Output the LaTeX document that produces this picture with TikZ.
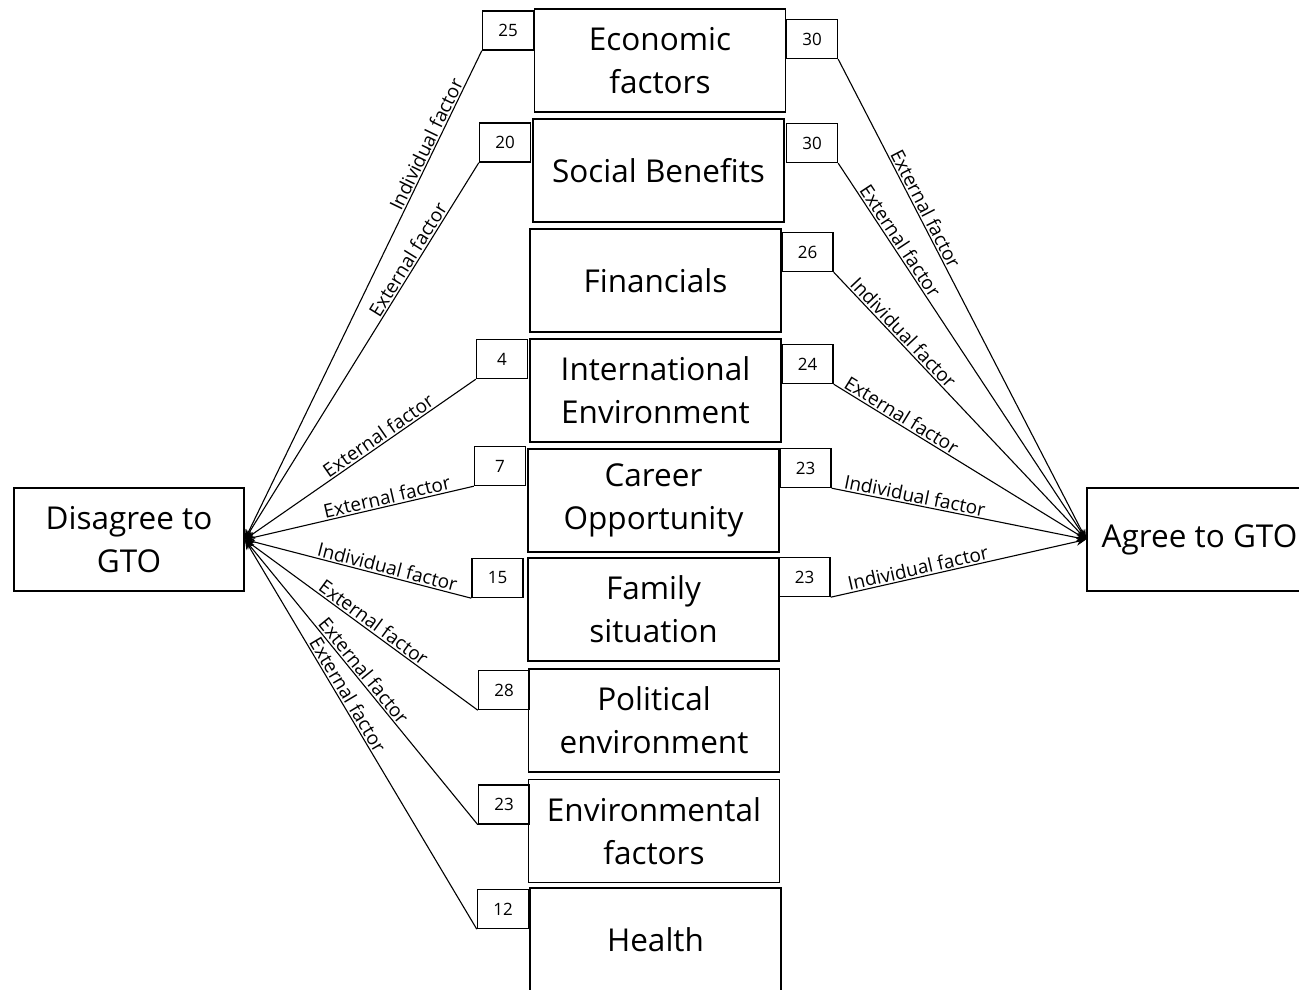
\documentclass[tikz,border=0pt]{standalone}
\usepackage{fontspec}
\setmainfont{Open Sans}
\usetikzlibrary{arrows.meta}
\begin{document}
\begin{tikzpicture}[x=1pt,y=-1pt,>={Stealth[length=10pt,width=8pt]},line width=1.1pt,
  catbox/.style={draw,line width=1.6pt,minimum width=251pt,minimum height=103pt,
    inner sep=0pt,align=center,font=\fontsize{31.5}{43}\selectfont},
  endbox/.style={draw,line width=1.6pt,minimum height=103pt,inner sep=0pt,
    align=center,font=\fontsize{31.5}{43}\selectfont},
  numbox/.style={draw,line width=1.4pt,minimum width=51pt,minimum height=39pt,
    inner sep=0pt,font=\fontsize{17}{19}\selectfont},
  fac/.style={sloped,above,inner sep=1.5pt,font=\fontsize{19}{21}\selectfont}]
  \useasboundingbox (0,0) rectangle (1299,989);

  % end nodes
  \node[endbox,minimum width=230pt] (dis) at (129,539.5) {Disagree to\\GTO};
  \node[endbox,minimum width=225pt] (agr) at (1199.5,539.5) {Agree to GTO};

  % factor boxes
  \node[catbox] (econ) at (660,60.5) {Economic\\factors};
  \node[catbox] (soc) at (658.5,170.5) {Social Benefits};
  \node[catbox] (fin) at (655.5,280.5) {Financials};
  \node[catbox] (intl) at (655.5,390.5) {International\\Environment};
  \node[catbox] (car) at (653.5,500.5) {Career\\Opportunity};
  \node[catbox] (fam) at (653.5,609.5) {Family\\situation};
  \node[catbox] (pol) at (654,720.5) {Political\\environment};
  \node[catbox] (env) at (654,831) {Environmental\\factors};
  \node[catbox] (hlth) at (655.5,939.5) {Health};

  % counts, disagree side
  \node[numbox] (l25) at (508,30.5) {25};
  \node[numbox] (l20) at (505,142.5) {20};
  \node[numbox] (l4) at (502,359) {4};
  \node[numbox] (l7) at (500,466) {7};
  \node[numbox] (l15) at (497.5,578) {15};
  \node[numbox] (l28) at (504,690) {28};
  \node[numbox] (l23) at (504,804.5) {23};
  \node[numbox] (l12) at (503,909) {12};

  % counts, agree side
  \node[numbox] (r30a) at (812,39) {30};
  \node[numbox] (r30b) at (812,143) {30};
  \node[numbox] (r26) at (807.5,252) {26};
  \node[numbox] (r24) at (807.5,364) {24};
  \node[numbox] (r23a) at (805.5,468) {23};
  \node[numbox] (r23b) at (804.5,577) {23};

  % links to disagree
  \draw[->] (l25.south west) -- node[fac,pos=.2] {Individual factor} (dis.east);
  \draw[->] (l20.south west) -- node[fac,pos=.27] {External factor} (dis.east);
  \draw[->] (l4.south west) -- node[fac,pos=.4] {External factor} (dis.east);
  \draw[->] (l7.south west) -- node[fac,pos=.37] {External factor} (dis.east);
  \draw[->] (l15.south west) -- node[fac,pos=.38] {Individual factor} (dis.east);
  \draw[->] (l28.south west) -- node[fac,pos=.47] {External factor} (dis.east);
  \draw[->] (l23.south west) -- node[fac,pos=.52] {External factor} (dis.east);
  \draw[->] (l12.south west) -- node[fac,pos=.59] {External factor} (dis.east);

  % links to agree
  \draw[->] (r30a.south east) -- node[fac,pos=.32] {External factor} (agr.west);
  \draw[->] (r30b.south east) -- node[fac,pos=.22] {External factor} (agr.west);
  \draw[->] (r26.south east) -- node[fac,pos=.25] {Individual factor} (agr.west);
  \draw[->] (r24.south east) -- node[fac,pos=.25] {External factor} (agr.west);
  \draw[->] (r23a.south east) -- node[fac,pos=.32] {Individual factor} (agr.west);
  \draw[->] (r23b.south east) -- node[fac,pos=.35] {Individual factor} (agr.west);
\end{tikzpicture}
\end{document}
